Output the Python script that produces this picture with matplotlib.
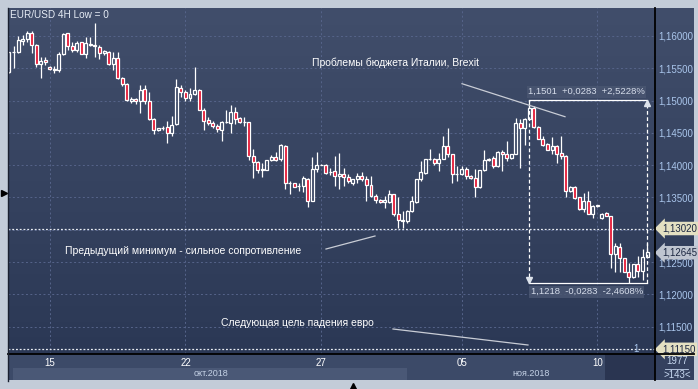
import numpy as np
import matplotlib.pyplot as plt
from matplotlib.colors import LinearSegmentedColormap
from matplotlib.patches import Rectangle

plt.rcParams['font.family'] = ['Liberation Sans', 'DejaVu Sans']

# EUR/USD 4H candles
opens = [1.1544, 1.1575, 1.1576, 1.1593, 1.1596, 1.1604, 1.1586, 1.1556, 1.1563, 1.1552,
         1.1549, 1.1548, 1.1572, 1.1604, 1.1585, 1.1578, 1.1590, 1.1572, 1.1588, 1.1586,
         1.1583, 1.1573, 1.1576, 1.1556, 1.1566, 1.1535, 1.1526, 1.1500, 1.1502, 1.1500,
         1.1518, 1.1500, 1.1472, 1.1454, 1.1458, 1.1459, 1.1450, 1.1464, 1.1519, 1.1513,
         1.1504, 1.1510, 1.1517, 1.1486, 1.1470, 1.1465, 1.1461, 1.1454, 1.1467, 1.1465,
         1.1482, 1.1473, 1.1467, 1.1467, 1.1414, 1.1405, 1.1393, 1.1393, 1.1408, 1.1413,
         1.1409, 1.1430, 1.1372, 1.1372, 1.1368, 1.1368, 1.1379, 1.1344, 1.1394, 1.1401,
         1.1401, 1.1390, 1.1391, 1.1384, 1.1387, 1.1381, 1.1372, 1.1378, 1.1383, 1.1379,
         1.1370, 1.1352, 1.1346, 1.1343, 1.1343, 1.1355, 1.1324, 1.1314, 1.1314, 1.1329,
         1.1343, 1.1378, 1.1388, 1.1409, 1.1410, 1.1403, 1.1410, 1.1430, 1.1417, 1.1386,
         1.1386, 1.1394, 1.1384, 1.1380, 1.1367, 1.1392, 1.1408, 1.1411, 1.1399, 1.1421,
         1.1418, 1.1411, 1.1418, 1.1466, 1.1458, 1.1472, 1.1489, 1.1459, 1.1441, 1.1433,
         1.1424, 1.1429, 1.1419, 1.1414, 1.1360, 1.1366, 1.1350, 1.1332, 1.1344, 1.1325,
         1.1337, 1.1318, 1.1326, 1.1321, 1.1262, 1.1273, 1.1257, 1.1235, 1.1227, 1.1247,
         1.1236, 1.1258]
highs = [1.1576, 1.1585, 1.1600, 1.1602, 1.1608, 1.1607, 1.1588, 1.1568, 1.1567, 1.1553,
         1.1553, 1.1575, 1.1604, 1.1605, 1.1591, 1.1593, 1.1591, 1.1598, 1.1598, 1.1620,
         1.1586, 1.1579, 1.1577, 1.1575, 1.1575, 1.1537, 1.1527, 1.1505, 1.1504, 1.1524,
         1.1524, 1.1514, 1.1473, 1.1458, 1.1461, 1.1469, 1.1476, 1.1533, 1.1524, 1.1517,
         1.1520, 1.1552, 1.1518, 1.1488, 1.1474, 1.1468, 1.1464, 1.1468, 1.1485, 1.1493,
         1.1490, 1.1474, 1.1474, 1.1467, 1.1425, 1.1407, 1.1403, 1.1408, 1.1416, 1.1421,
         1.1433, 1.1432, 1.1375, 1.1373, 1.1372, 1.1383, 1.1380, 1.1413, 1.1421, 1.1402,
         1.1402, 1.1395, 1.1414, 1.1419, 1.1396, 1.1386, 1.1379, 1.1388, 1.1389, 1.1383,
         1.1383, 1.1355, 1.1348, 1.1352, 1.1361, 1.1356, 1.1350, 1.1329, 1.1330, 1.1352,
         1.1379, 1.1406, 1.1410, 1.1425, 1.1411, 1.1419, 1.1445, 1.1458, 1.1418, 1.1399,
         1.1399, 1.1397, 1.1385, 1.1394, 1.1393, 1.1424, 1.1411, 1.1414, 1.1422, 1.1424,
         1.1437, 1.1418, 1.1473, 1.1472, 1.1473, 1.1501, 1.1491, 1.1460, 1.1445, 1.1435,
         1.1443, 1.1432, 1.1445, 1.1416, 1.1368, 1.1368, 1.1351, 1.1357, 1.1360, 1.1338,
         1.1339, 1.1326, 1.1328, 1.1322, 1.1280, 1.1280, 1.1257, 1.1249, 1.1247, 1.1259,
         1.1271, 1.1280]
lows = [1.1543, 1.1550, 1.1573, 1.1586, 1.1591, 1.1573, 1.1552, 1.1535, 1.1555, 1.1548,
        1.1542, 1.1544, 1.1571, 1.1579, 1.1575, 1.1575, 1.1572, 1.1566, 1.1585, 1.1567,
        1.1564, 1.1571, 1.1555, 1.1548, 1.1534, 1.1523, 1.1500, 1.1496, 1.1494, 1.1481,
        1.1494, 1.1470, 1.1448, 1.1453, 1.1454, 1.1434, 1.1445, 1.1463, 1.1505, 1.1499,
        1.1500, 1.1509, 1.1485, 1.1455, 1.1462, 1.1457, 1.1451, 1.1438, 1.1466, 1.1450,
        1.1464, 1.1465, 1.1460, 1.1408, 1.1380, 1.1388, 1.1382, 1.1393, 1.1407, 1.1406,
        1.1406, 1.1363, 1.1356, 1.1366, 1.1360, 1.1358, 1.1335, 1.1344, 1.1390, 1.1400,
        1.1387, 1.1385, 1.1368, 1.1363, 1.1368, 1.1372, 1.1370, 1.1373, 1.1375, 1.1344,
        1.1351, 1.1342, 1.1341, 1.1334, 1.1341, 1.1322, 1.1303, 1.1303, 1.1311, 1.1328,
        1.1341, 1.1375, 1.1387, 1.1408, 1.1401, 1.1391, 1.1409, 1.1412, 1.1372, 1.1375,
        1.1385, 1.1379, 1.1378, 1.1351, 1.1365, 1.1391, 1.1406, 1.1396, 1.1397, 1.1391,
        1.1406, 1.1409, 1.1417, 1.1396, 1.1432, 1.1471, 1.1458, 1.1440, 1.1429, 1.1423,
        1.1417, 1.1404, 1.1409, 1.1351, 1.1359, 1.1347, 1.1331, 1.1328, 1.1324, 1.1318,
        1.1336, 1.1317, 1.1321, 1.1241, 1.1234, 1.1235, 1.1234, 1.1218, 1.1226, 1.1227,
        1.1223, 1.1258]
closes = [1.1575, 1.1576, 1.1594, 1.1596, 1.1604, 1.1586, 1.1556, 1.1562, 1.1559, 1.1549,
          1.1548, 1.1572, 1.1603, 1.1584, 1.1578, 1.1589, 1.1572, 1.1589, 1.1586, 1.1584,
          1.1573, 1.1577, 1.1556, 1.1566, 1.1535, 1.1526, 1.1501, 1.1503, 1.1500, 1.1516,
          1.1500, 1.1472, 1.1454, 1.1458, 1.1458, 1.1450, 1.1463, 1.1521, 1.1513, 1.1504,
          1.1510, 1.1517, 1.1485, 1.1469, 1.1465, 1.1461, 1.1456, 1.1467, 1.1467, 1.1482,
          1.1471, 1.1467, 1.1467, 1.1414, 1.1405, 1.1393, 1.1394, 1.1408, 1.1413, 1.1408,
          1.1431, 1.1372, 1.1372, 1.1367, 1.1368, 1.1380, 1.1344, 1.1394, 1.1401, 1.1401,
          1.1388, 1.1390, 1.1384, 1.1387, 1.1381, 1.1375, 1.1378, 1.1383, 1.1379, 1.1370,
          1.1352, 1.1346, 1.1343, 1.1346, 1.1355, 1.1324, 1.1315, 1.1315, 1.1329, 1.1344,
          1.1378, 1.1389, 1.1409, 1.1410, 1.1403, 1.1410, 1.1430, 1.1417, 1.1386, 1.1386,
          1.1394, 1.1384, 1.1380, 1.1367, 1.1392, 1.1408, 1.1409, 1.1399, 1.1421, 1.1418,
          1.1411, 1.1417, 1.1466, 1.1458, 1.1472, 1.1489, 1.1459, 1.1441, 1.1432, 1.1424,
          1.1429, 1.1418, 1.1414, 1.1360, 1.1366, 1.1349, 1.1332, 1.1344, 1.1325, 1.1337,
          1.1338, 1.1325, 1.1321, 1.1262, 1.1275, 1.1257, 1.1235, 1.1227, 1.1247, 1.1236,
          1.1258, 1.1265]

day_idx = [9, 39, 69, 100, 130]
day_labels = ['15', '22', '27', '05', '10']
month_labels = ['окт.2018', 'ноя.2018']
price_levels = [1.115, 1.120, 1.125, 1.130, 1.135, 1.140, 1.145, 1.150, 1.155, 1.160]

resistance = 1.1302
target = 1.1115
last_price = 1.12645
swing_hi, swing_lo = 1.1501, 1.1218
hi_idx, last_idx = 115, 141

W, H = 698, 389
fig = plt.figure(figsize=(W / 100, H / 100), dpi=100)
fig.patch.set_facecolor('#c3ccd8')


def px_axes(z):
    a = fig.add_axes([0, 0, 1, 1], zorder=z)
    a.patch.set_alpha(0)
    a.axis('off')
    return a


# background panels (pixel coordinates)
bg = px_axes(0)
cm = LinearSegmentedColormap.from_list('navy', ['#414e6b', '#2b3855'])
bg.imshow(np.linspace(0, 1, 200)[:, None], cmap=cm, extent=[8, 694, 354, 8],
          aspect='auto', interpolation='bicubic')
bg.add_patch(Rectangle((8, 354), 686, 26, fc='#3c4a68', ec='none'))
bg.add_patch(Rectangle((13, 367.5), 394, 12.5, fc='#4a5876', ec='none'))
bg.add_patch(Rectangle((605, 354), 50, 26, fc='#2a3551', ec='none'))
bg.add_patch(Rectangle((655, 354), 39, 26, fc='#34415f', ec='none'))
bg.set_xlim(0, W)
bg.set_ylim(H, 0)

# price chart
ax = fig.add_axes([8 / W, 35 / H, 647 / W, 346 / H], zorder=1)
ax.patch.set_alpha(0)
for s in ax.spines.values():
    s.set_visible(False)

o, h, l, c = map(np.array, (opens, highs, lows, closes))
idx = np.arange(len(o))
top = np.maximum(o, c)
bot = np.minimum(o, c)
up = c >= o

ax.vlines(idx, top, h, color='white', lw=0.9, zorder=3)
ax.vlines(idx, l, bot, color='white', lw=0.9, zorder=3)
ax.bar(idx[up], (top - bot)[up], bottom=bot[up], width=0.66,
       facecolor='none', edgecolor='white', lw=0.9, zorder=3)
ax.bar(idx[~up], (top - bot)[~up], bottom=bot[~up], width=0.66,
       facecolor='#e3122f', edgecolor='white', lw=0.9, zorder=3)

ax.set_xlim(-0.22, 142.76)
ax.set_ylim(1.110774, 1.164334)

# 1,13000 sits under the 1,13020 tag, so its label is left blank
ax.set_yticks(price_levels)
ax.set_yticklabels(['' if abs(v - 1.13) < 1e-9 else f'{v:.5f}'.replace('.', ',')
                    for v in price_levels])
ax.yaxis.tick_right()
ax.tick_params(axis='y', length=0, pad=2.5, labelcolor='#aac6ec', labelsize=7)
ax.set_xticks(day_idx)
ax.set_xticklabels(day_labels)
ax.tick_params(axis='x', length=0, pad=3, labelcolor='white', labelsize=7)
ax.grid(color='#56648a', ls=(0, (2, 2.5)), lw=0.7, zorder=1)

ax.axhline(resistance, color='#e8ecf2', ls=(0, (1.5, 1.5)), lw=0.9, zorder=2)
ax.axhline(target, color='#e8ecf2', ls=(0, (1.5, 1.5)), lw=0.9, zorder=2)

# measured move box
ax.plot([hi_idx, last_idx], [swing_hi, swing_hi], color='white', lw=0.9, zorder=4)
ax.plot([hi_idx, last_idx], [swing_lo, swing_lo], color='white', lw=0.9, zorder=4)
ax.vlines([hi_idx, last_idx], swing_lo, swing_hi, colors='white',
          linestyles=(0, (3, 2)), lw=0.9, zorder=4)
ax.plot(hi_idx, swing_lo + 0.0004, marker='v', ms=4, color='#dde3ec', zorder=4)
ax.plot(last_idx, swing_hi - 0.0004, marker='^', ms=4, color='#dde3ec', zorder=4)
box_kw = dict(textcoords='offset points', ha='left', va='center', fontsize=6.8,
              color='#d5dcea', zorder=5,
              bbox=dict(boxstyle='square,pad=0.15', fc='#4a5671', ec='none', alpha=0.85))
ax.annotate('1,1501  +0,0283  +2,5228%', xy=(hi_idx, swing_hi), xytext=(-1, 6), **box_kw)
ax.annotate('1,1218  -0,0283  -2,4608%', xy=(hi_idx, swing_lo), xytext=(1, -6.5), **box_kw)

# price tags on the right scale
tag_kw = dict(xycoords=ax.get_yaxis_transform(), textcoords='offset points',
              ha='left', va='center', fontsize=7, color='#1b2640',
              annotation_clip=False, zorder=6)
ax.annotate('1,13020', xy=(1, resistance), xytext=(5, 0),
            bbox=dict(boxstyle='larrow,pad=0.18', fc='#e4e0c2', ec='none'), **tag_kw)
ax.annotate('1,12645', xy=(1, last_price), xytext=(5, 0),
            bbox=dict(boxstyle='larrow,pad=0.18', fc='#bfc5d0', ec='none'), **tag_kw)
ax.annotate('1,11150', xy=(1, target), xytext=(5, 0),
            bbox=dict(boxstyle='larrow,pad=0.18', fc='#e4e0c2', ec='none'), **tag_kw)

# overlay: frame, captions, comments
ov = px_axes(2)
ov.set_xlim(0, W)
ov.set_ylim(H, 0)
ov.plot([655, 655], [8, 380], color='black', lw=1.3)
ov.plot([8, 694], [354, 354], color='black', lw=1.3)
ov.plot([7.5, 7.5], [8, 381], color='#1a2030', lw=1)

ov.text(10, 15, 'EUR/USD 4H Low = 0', fontsize=7.2, color='#e6ecf5', va='center')
ov.text(211, 373.5, month_labels[0], fontsize=6.5, color='#c5d2e6', ha='center', va='center')
ov.text(531, 373.5, month_labels[1], fontsize=6.5, color='#c5d2e6', ha='center', va='center')
ov.text(677, 361.5, '1977', fontsize=7, color='#c5d6ee', ha='center', va='center')
ov.plot([665, 688], [368.5, 368.5], color='#c5d6ee', lw=0.6)
ov.text(677, 374.5, '>143<', fontsize=7, color='#c5d6ee', ha='center', va='center')
ov.text(636, 349, '1', fontsize=7, color='#aac6ec', ha='center', va='center')

note_kw = dict(fontsize=7.5, color='white', ha='center', va='center')
ov.text(396, 63, 'Проблемы бюджета Италии, Brexit', **note_kw)
ov.plot([462, 565], [83.7, 116.7], color='#c9cdd6', lw=0.9)
ov.text(183, 251, 'Предыдущий минимум - сильное сопротивление', **note_kw)
ov.plot([326, 375], [249, 236], color='#c9cdd6', lw=0.9)
ov.text(297, 323.5, 'Следующая цель падения евро', **note_kw)
ov.plot([393, 528], [329, 345], color='#c9cdd6', lw=0.9)

ov.plot(3.5, 193, marker='>', ms=5, color='black')
ov.plot(352.5, 386, marker='^', ms=5, color='black')

fig.savefig('out.png', dpi=100, facecolor=fig.get_facecolor())
